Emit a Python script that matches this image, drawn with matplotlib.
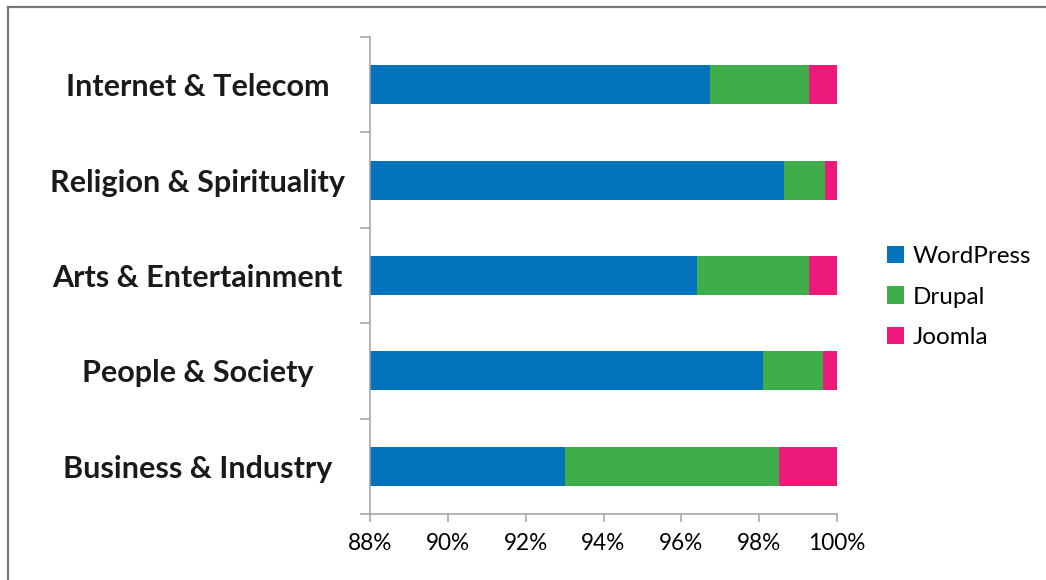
import numpy as np
import matplotlib
matplotlib.use("Agg")
import matplotlib.pyplot as plt
from matplotlib.lines import Line2D
from matplotlib.patches import Patch
from matplotlib.ticker import FuncFormatter

plt.rcParams['font.family'] = ['Lato', 'DejaVu Sans']

# categorias de arriba hacia abajo
categorias = ["Internet & Telecom", "Religion & Spirituality", "Arts & Entertainment",
              "People & Society", "Business & Industry"]
wordpress = [96.74, 98.64, 96.41, 98.10, 93.01]
drupal = [2.55, 1.06, 2.88, 1.55, 5.50]
joomla = [0.71, 0.30, 0.71, 0.35, 1.49]
series = ["WordPress", "Drupal", "Joomla"]
colores = ["#0373BB", "#3EAE4B", "#EE1A7A"]
xticks = [88, 90, 92, 94, 96, 98, 100]

fig = plt.figure(figsize=(10.46, 5.8), dpi=100)
ax = fig.add_axes([370/1046, 1-514/580, 467/1046, 477/580])

y = np.arange(len(categorias))
izq = np.zeros(len(categorias))
for vals, nombre, c in zip([wordpress, drupal, joomla], series, colores):
    ax.barh(y, vals, left=izq, height=0.41, color=c, label=nombre)
    izq = izq + np.array(vals)

ax.set_xlim(88, 100)
ax.set_ylim(len(categorias) - 0.5, -0.5)
ax.set_xticks(xticks)
ax.xaxis.set_major_formatter(FuncFormatter(lambda v, p: f"{v:.0f}%"))
ax.set_yticks(y)
ax.set_yticklabels(categorias, fontsize=22, fontweight='bold', color='#1a1a1a')
ax.set_yticks(np.arange(len(categorias) + 1) - 0.5, minor=True)
for lbl in ax.get_yticklabels():
    lbl.set_ha('center')
ax.tick_params(axis='y', which='major', length=0, pad=124)
ax.tick_params(axis='y', which='minor', length=7.2, width=1.1, color='#A0A0A0', direction='out')
ax.tick_params(axis='x', length=5.8, width=1.1, color='#A0A0A0', labelsize=16.3, pad=8)

for s in ['top', 'right']:
    ax.spines[s].set_visible(False)
for s in ['left', 'bottom']:
    ax.spines[s].set_color('#A0A0A0')
    ax.spines[s].set_linewidth(1.1)

handles = [Patch(facecolor=c, label=n) for c, n in zip(colores, series)]
fig.legend(handles=handles, loc='center left', bbox_to_anchor=(865/1046, 1-297/580),
           frameon=False, fontsize=17.5, handlelength=0.7, handleheight=0.7,
           handletextpad=0.37, labelspacing=0.82)

# marco gris
fig.add_artist(Line2D([8/1046, 1], [1-7/580, 1-7/580], color='#777777', lw=1.6))
fig.add_artist(Line2D([8/1046, 8/1046], [0, 1-7/580], color='#777777', lw=1.6))

fig.savefig("out.png", dpi=100)
